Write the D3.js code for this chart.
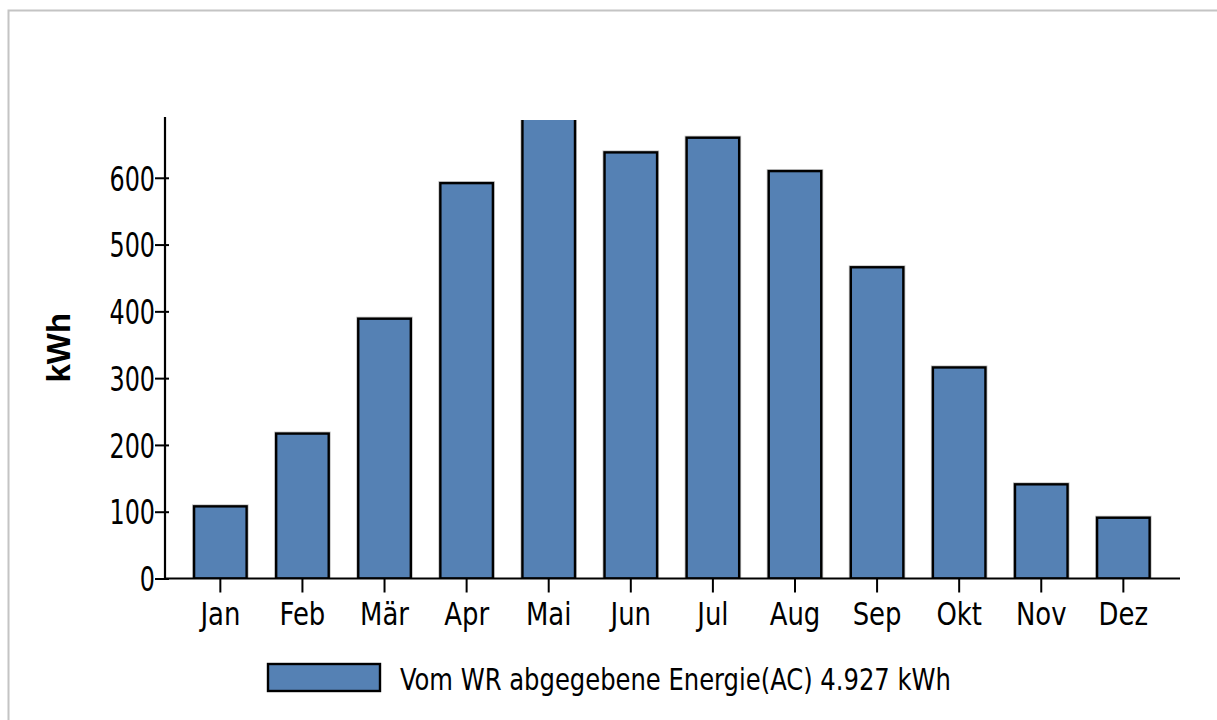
<!DOCTYPE html>
<html>
<head>
<meta charset="utf-8">
<script src="https://cdn.jsdelivr.net/npm/d3@7"></script>
<style>
  body { margin: 0; background: #fff; }
  svg { display: block; }
</style>
</head>
<body>
<div id="chart"></div>
<script>
// monthly AC energy (kWh)
const months = ["Jan", "Feb", "Mär", "Apr", "Mai", "Jun", "Jul", "Aug", "Sep", "Okt", "Nov", "Dez"];
const energy = [108, 217, 389, 592, 699, 638, 660, 610, 466, 316, 141, 91];
const yTicks = [0, 100, 200, 300, 400, 500, 600];
const yTitle = "kWh";
const legendLabel = "Vom WR abgegebene Energie(AC) 4.927 kWh";

const W = 1217, H = 720;
const barColor = "#5581b4";
const condensed = "'DejaVu Sans Condensed', 'DejaVu Sans', sans-serif";

const svg = d3.select("#chart").append("svg")
    .attr("width", W)
    .attr("height", H);

// outer frame (runs past the window on right and bottom)
svg.append("rect")
    .attr("x", 8.5).attr("y", 10.5)
    .attr("width", 1300).attr("height", 800)
    .attr("fill", "none")
    .attr("stroke", "#c4c4c4")
    .attr("stroke-width", 2);

const plot = {left: 165, right: 1180, top: 117, bottom: 578.5};

const x = d3.scaleBand()
    .domain(months)
    .range([179.3, 1164.4])
    .paddingInner(0.36)
    .paddingOuter(0.18);

const y = d3.scaleLinear()
    .domain([0, 691])
    .range([plot.bottom, plot.top]);

svg.append("defs").append("clipPath")
    .attr("id", "plotclip")
    .append("rect")
    .attr("x", plot.left).attr("y", 120)
    .attr("width", plot.right - plot.left)
    .attr("height", plot.bottom - 120);

const bars = svg.append("g").attr("clip-path", "url(#plotclip)");

// light halo behind the black outline
bars.selectAll(".halo")
    .data(energy)
    .enter().append("rect")
    .attr("class", "halo")
    .attr("x", (d, i) => x(months[i]))
    .attr("y", d => y(d))
    .attr("width", x.bandwidth())
    .attr("height", d => y(0) - y(d))
    .attr("fill", "none")
    .attr("stroke", "#c0c0c0")
    .attr("stroke-width", 4);

bars.selectAll(".bar")
    .data(energy)
    .enter().append("rect")
    .attr("class", "bar")
    .attr("x", (d, i) => x(months[i]))
    .attr("y", d => y(d))
    .attr("width", x.bandwidth())
    .attr("height", d => y(0) - y(d))
    .attr("fill", barColor)
    .attr("stroke", "#000")
    .attr("stroke-width", 2.4);

// y axis
const yAxis = svg.append("g")
    .attr("transform", `translate(${plot.left},0)`)
    .call(d3.axisLeft(y).tickValues(yTicks).tickSize(10).tickSizeOuter(0));

yAxis.select(".domain").remove();
yAxis.append("line")
    .attr("x1", 0).attr("x2", 0)
    .attr("y1", plot.top).attr("y2", plot.bottom)
    .attr("stroke", "#000").attr("stroke-width", 2.2);
yAxis.selectAll(".tick line")
    .attr("x1", -10).attr("x2", 4)
    .attr("stroke", "#000").attr("stroke-width", 2);
yAxis.selectAll(".tick text")
    .attr("x", 0)
    .attr("dy", "0.36em")
    .attr("transform", "translate(-10,0) scale(0.78,1)")
    .attr("font-family", condensed)
    .attr("font-size", "34px")
    .attr("fill", "#000");

// x axis
const xAxis = svg.append("g")
    .attr("transform", `translate(0,${plot.bottom})`)
    .call(d3.axisBottom(x).tickSize(14).tickSizeOuter(0));

xAxis.select(".domain").remove();
xAxis.append("line")
    .attr("x1", plot.left).attr("x2", plot.right)
    .attr("y1", 0).attr("y2", 0)
    .attr("stroke", "#000").attr("stroke-width", 2.2);
xAxis.selectAll(".tick line")
    .attr("stroke", "#000").attr("stroke-width", 2);
xAxis.selectAll(".tick text")
    .attr("y", 0)
    .attr("dy", 0)
    .attr("transform", "translate(0,46.5) scale(0.9,1)")
    .attr("font-family", condensed)
    .attr("font-size", "32px")
    .attr("fill", "#000");

// axis title
svg.append("text")
    .attr("transform", `translate(70,${(plot.top + plot.bottom) / 2}) rotate(-90)`)
    .attr("text-anchor", "middle")
    .attr("font-family", "'Liberation Sans', Arial, sans-serif")
    .attr("font-weight", "bold")
    .attr("font-size", "33px")
    .text(yTitle);

// legend
const legend = svg.append("g").attr("transform", "translate(268,664)");
legend.append("rect")
    .attr("width", 112).attr("height", 27)
    .attr("fill", barColor)
    .attr("stroke", "#000")
    .attr("stroke-width", 2.4);
legend.append("text")
    .attr("transform", "translate(132,26) scale(0.87,1)")
    .attr("font-family", condensed)
    .attr("font-size", "31px")
    .attr("fill", "#000")
    .text(legendLabel);
</script>
</body>
</html>
